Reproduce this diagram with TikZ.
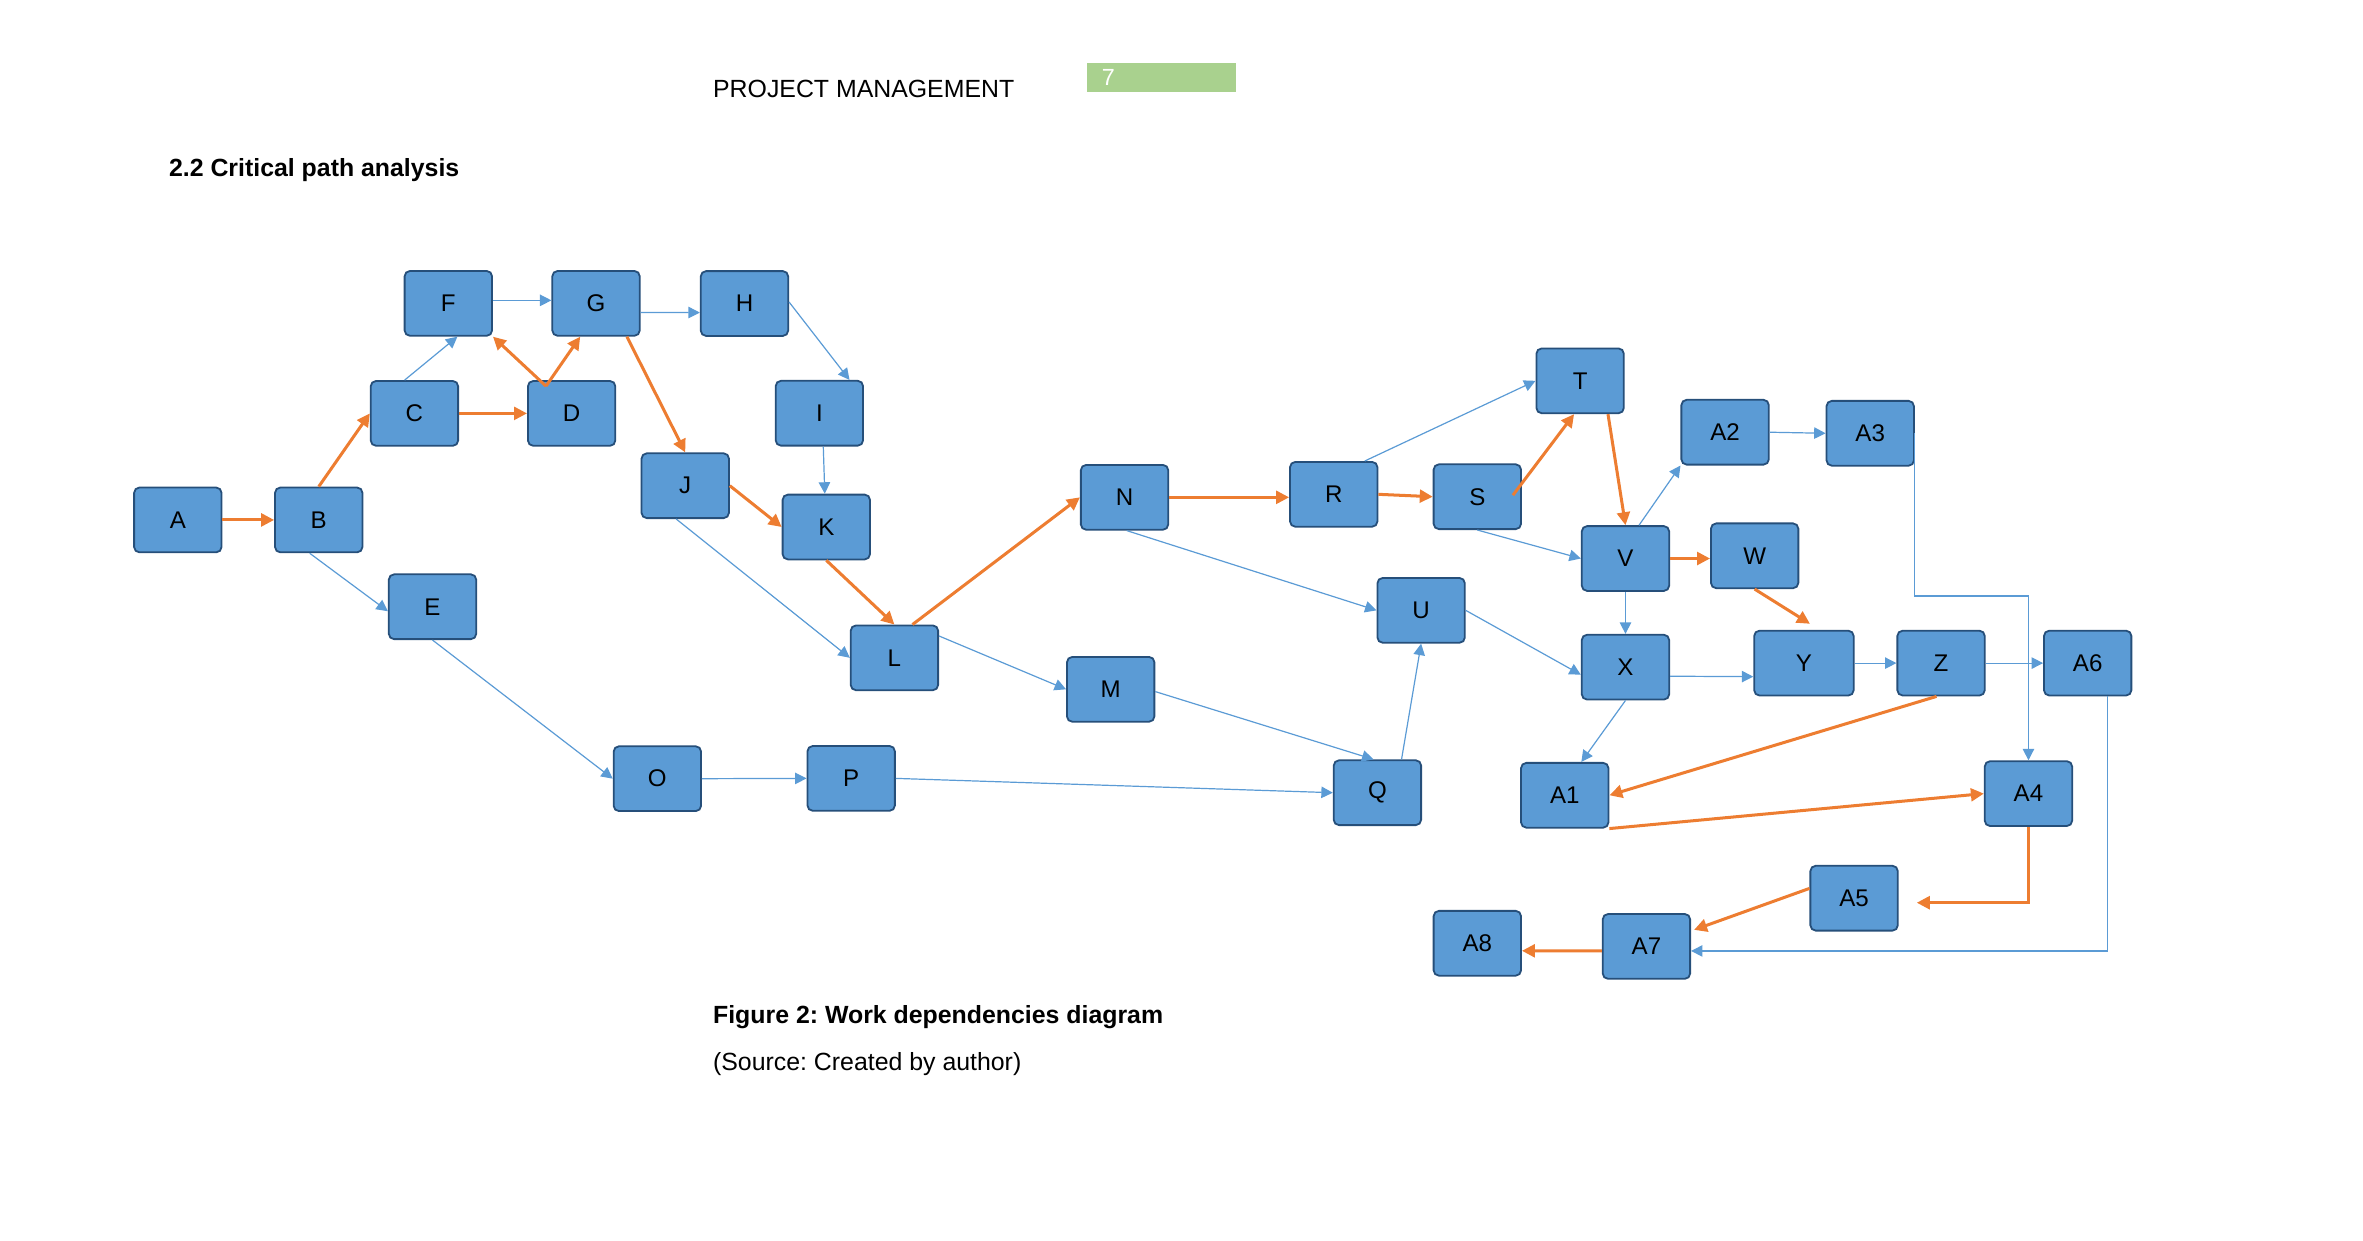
\documentclass[tikz,border=0pt]{standalone}
\usepackage{fontspec}
\setmainfont{Liberation Sans}
\usetikzlibrary{arrows.meta,calc}
\definecolor{boxfill}{HTML}{5B9BD5}
\definecolor{boxline}{HTML}{264F7A}
\definecolor{critc}{HTML}{ED7D31}
\definecolor{depc}{HTML}{5B9BD5}
\definecolor{pagegreen}{HTML}{A9D18E}
\frenchspacing
\begin{document}
\begin{tikzpicture}[x=1pt,y=-1pt,
 box/.style={draw=boxline, fill=boxfill, line width=1.2pt, rounded corners=3.5pt,
   minimum width=58pt, minimum height=43pt, inner sep=0pt, font=\fontsize{16}{19}\selectfont},
 critical/.style={draw=critc, line width=2pt, -{Triangle[length=8.6pt,width=8.5pt]}},
 depend/.style={draw=depc, line width=0.8pt, -{Triangle[length=7.6pt,width=7.6pt]}},
 txt/.style={anchor=base west, inner sep=0pt, font=\fontsize{16.5}{20}\selectfont},
]
\useasboundingbox (0,0) rectangle (1568,823);

% header
\node[txt] (hdr) at (473,64.6) {PROJECT MANAGEMENT};
\node[fill=pagegreen, minimum width=99pt, minimum height=19pt, inner sep=0pt, anchor=north west] (pg) at (721,41.6) {};
\node[txt, text=white, font=\fontsize{15.5}{18}\selectfont] (pgnum) at (731,57) {7};
\node[txt, font=\bfseries\fontsize{16.5}{20}\selectfont] (sec) at (112,117) {2.2 Critical path analysis};
\node[txt, font=\bfseries\fontsize{16.5}{20}\selectfont] (cap) at (473,679) {Figure 2: Work dependencies diagram};
\node[txt] (src) at (473,710.5) {(Source: Created by author)};

% boxes
\node[box] (A) at (118,345) {A};
\node[box] (B) at (211.5,345) {B};
\node[box] (C) at (275,274.3) {C};
\node[box] (D) at (379.3,274.3) {D};
\node[box] (E) at (287,402.6) {E};
\node[box] (F) at (297.5,201.3) {F};
\node[box] (G) at (395.5,201.3) {G};
\node[box] (H) at (494,201.4) {H};
\node[box] (I) at (543.7,274.2) {I};
\node[box] (J) at (454.7,322.3) {J};
\node[box] (K) at (548.3,349.7) {K};
\node[box] (L) at (593.5,436.5) {L};
\node[box] (M) at (737,457.4) {M};
\node[box] (N) at (746.2,330) {N};
\node[box] (O) at (436.2,516.7) {O};
\node[box] (P) at (564.8,516.5) {P};
\node[box] (Q) at (914,526) {Q};
\node[box] (R) at (885,328) {R};
\node[box] (S) at (980.3,329.6) {S};
\node[box] (T) at (1048.5,252.7) {T};
\node[box] (U) at (943,405) {U};
\node[box] (V) at (1078.6,370.6) {V};
\node[box] (W) at (1164.3,368.8) {W};
\node[box] (X) at (1078.6,442.7) {X};
\node[box, minimum width=66pt] (Y) at (1197,440) {Y};
\node[box] (Z) at (1288,440) {Z};
\node[box] (A6) at (1385.3,440) {A6};
\node[box] (A1) at (1038.3,527.7) {A1};
\node[box] (A2) at (1144.7,286.8) {A2};
\node[box] (A3) at (1241,287.5) {A3};
\node[box] (A4) at (1346,526.6) {A4};
\node[box] (A5) at (1230.3,596) {A5};
\node[box] (A7) at (1092.5,628) {A7};
\node[box] (A8) at (980.3,625.9) {A8};

% critical path
\draw[critical] (A.east) -- (B.west);
\draw[critical] (B.north) -- (C.west);
\draw[critical] (C.east) -- (D.west);
\draw[critical] ($(D.north)+(-17,4)$) -- (F.south east);
\draw[critical] ($(D.north)+(-17,4)$) -- ($(G.south)+(-10.5,0)$);
\draw[critical] ($(G.south)+(20.5,0)$) -- (J.north);
\draw[critical] (J.east) -- (K.west);
\draw[critical] (K.south) -- (L.north);
\draw[critical] ($(L.north)+(12,0)$) -- (N.west);
\draw[critical] (N.east) -- (R.west |- N.east);
\draw[critical] (R.east) -- (S.west);
\draw[critical] ($(S.east)+(-6,-1)$) -- ($(T.south)+(-4,0)$);
\draw[critical] ($(T.south)+(18.5,0)$) -- (V.north);
\draw[critical] (V.east) -- (W.west |- V.east);
\draw[critical] (W.south) -- ($(Y.north)+(4,-4)$);
\draw[critical] ($(Z.south)+(-3,0)$) -- (A1.east);
\draw[critical] (A1.south east) -- (A4.west);
\coordinate (a5in) at ($(A5.east)+(12,3)$);
\draw[critical] (A4.south) |- (a5in);
\draw[critical] ($(A5.west)+(0,-6.5)$) -- ($(A7.east)+(2,-11)$);
\draw[critical] ($(A7.west)+(0,3)$) -- ($(A8.east)+(0,5)$);

% other dependencies
\draw[depend] ($(B.south)+(-6,0)$) -- ($(E.west)+(0,3)$);
\draw[depend] ($(C.north)+(-6.5,0)$) -- ($(F.south)+(6,0)$);
\draw[depend] ($(F.east)+(0,-2)$) -- ($(G.west)+(0,-2)$);
\draw[depend] ($(G.east)+(0,6)$) -- ($(H.west)+(0,6)$);
\draw[depend] ($(H.east)+(0,-1)$) -- ($(I.north)+(20,0)$);
\draw[depend] ($(I.south)+(2.6,0)$) -- ($(K.north)+(-1,0)$);
\draw[depend] ($(J.south)+(-6,0)$) -- (L.west);
\draw[depend] ($(L.east)+(0,-14.5)$) -- (M.west);
\draw[depend] (E.south) -- (O.west);
\draw[depend] (O.east) -- (P.west);
\draw[depend] (P.east) -- (Q.west);
\draw[depend] ($(M.east)+(0,1.5)$) -- ($(Q.north)+(-2.6,0)$);
\draw[depend] ($(Q.north)+(16,0)$) -- (U.south);
\draw[depend] ($(N.south)+(1.5,0)$) -- (U.west);
\draw[depend] ($(R.north)+(20.6,0)$) -- (T.west);
\draw[depend] (S.south) -- (V.west);
\draw[depend] ($(V.north)+(9,0)$) -- (A2.south west);
\draw[depend] (A2.east) -- (A3.west);
\draw[depend] (A3.east) -- ($(A3.east)+(0,108)$) -| (A4.north);
\draw[depend] (U.east) -- ($(X.west)+(0,5)$);
\draw[depend] (V.south) -- (X.north);
\draw[depend] ($(X.east)+(0,6)$) -- ($(Y.west)+(0,9)$);
\draw[depend] (Y.east) -- (Z.west);
\draw[depend] (Z.east) -- (A6.west);
\draw[depend] (X.south) -- ($(A1.north)+(11,0)$);
\draw[depend] ($(A6.south)+(13,0)$) |- ($(A7.east)+(0,3)$);
\end{tikzpicture}
\end{document}
